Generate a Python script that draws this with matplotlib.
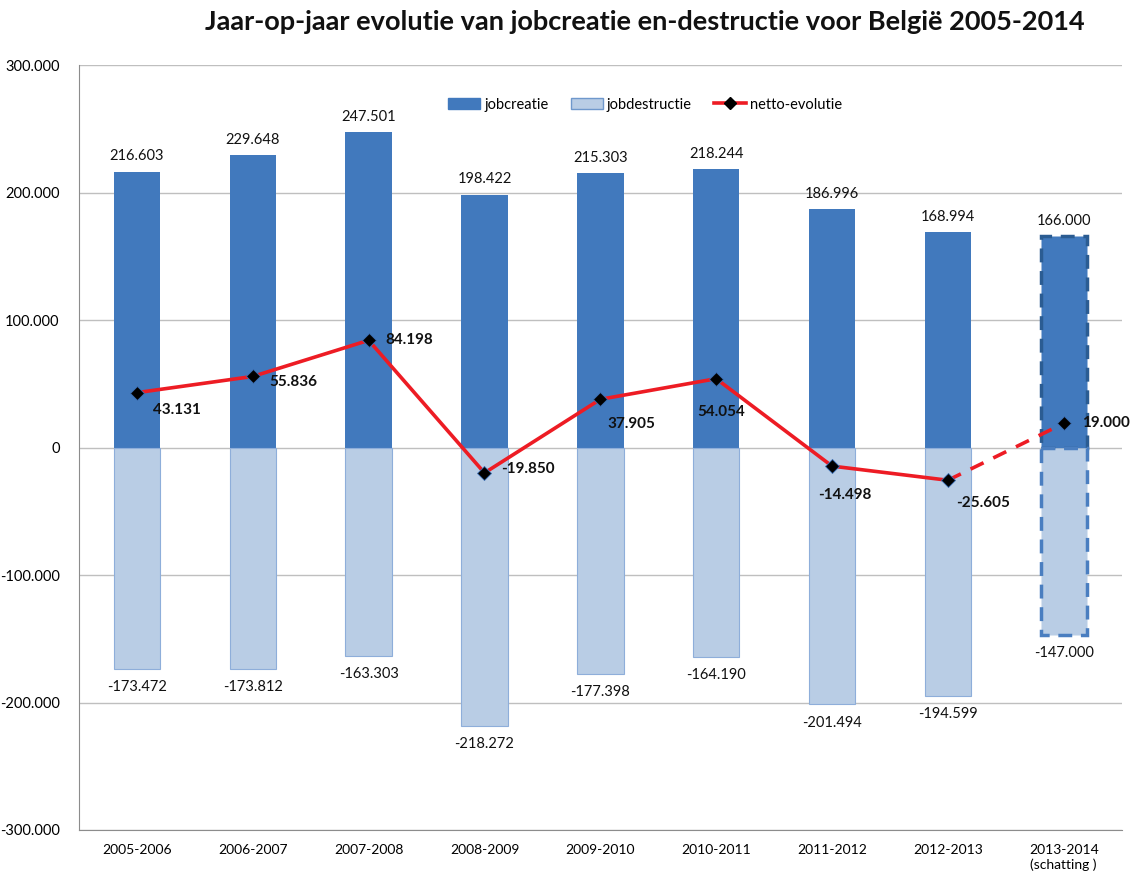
import matplotlib
matplotlib.use("Agg")
import matplotlib.pyplot as plt
import numpy as np
from matplotlib.lines import Line2D
from matplotlib.patches import Patch

plt.rcParams['font.family'] = ['Lato', 'DejaVu Sans']

periods = ["2005-2006", "2006-2007", "2007-2008", "2008-2009", "2009-2010",
           "2010-2011", "2011-2012", "2012-2013", "2013-2014\n(schatting )"]
jobcreatie = [216603, 229648, 247501, 198422, 215303, 218244, 186996, 168994, 166000]
jobdestructie = [-173472, -173812, -163303, -218272, -177398, -164190, -201494, -194599, -147000]
netto = [43131, 55836, 84198, -19850, 37905, 54054, -14498, -25605, 19000]
yticks = [-300000, -200000, -100000, 0, 100000, 200000, 300000]

def fmt(v):
    s = f"{abs(v):,}".replace(",", ".")
    return ("-" if v < 0 else "") + s

dark = '#4179BD'
light = '#B9CDE5'
red = '#ED1C24'

fig = plt.figure(figsize=(11.37, 8.82), dpi=100)
ax = fig.add_axes([0.0695, 0.059, 0.917, 0.867])

x = np.arange(len(periods))
w = 0.4
n = len(periods)
bc = ax.bar(x, jobcreatie, w, color=dark, zorder=2)
bd = ax.bar(x, jobdestructie, w, color=light, edgecolor='#8EAEDA', linewidth=0.8, zorder=2)
# estimate bar styling
bc[-1].set_edgecolor('#2B5C92'); bc[-1].set_linestyle((0, (4, 2.5))); bc[-1].set_linewidth(2.5)
bd[-1].set_edgecolor('#4A7EC0'); bd[-1].set_linestyle((0, (4, 2.5))); bd[-1].set_linewidth(2.5)

# net line
ax.plot(x[:-1], netto[:-1], color=red, lw=2.6, zorder=3)
ax.plot(x[-2:], netto[-2:], color=red, lw=2.6, ls=(0, (4, 3)), zorder=3)
ax.plot(x, netto, ls='none', marker='D', ms=7.5, mfc='black', mec='#3B6FB5', mew=0.6, zorder=4)

# value labels
for xi, v in zip(x, jobcreatie):
    ax.annotate(fmt(v), (xi, v), xytext=(0, 6), textcoords='offset points',
                ha='center', va='bottom', fontsize=10.5, color='#111111')
for xi, v in zip(x, jobdestructie):
    ax.annotate(fmt(v), (xi, v), xytext=(0, -8), textcoords='offset points',
                ha='center', va='top', fontsize=10.5, color='#111111')

# net labels offsets in pixels (dx, dy) with alignment
offs = [(16, -17, 'left'), (17, -6, 'left'), (17, 0, 'left'), (17, 4, 'left'),
        (7, -25, 'left'), (5, -33, 'center'), (-14, -29, 'left'), (8, -23, 'left'),
        (18, 0, 'left')]
for xi, v, (dx, dy, ha) in zip(x, netto, offs):
    ax.annotate(fmt(v), (xi, v), xytext=(dx * 0.72, dy * 0.72), textcoords='offset points',
                ha=ha, va='center', fontsize=11, fontweight='bold', color='#111111', zorder=5)

ax.set_xlim(-0.5, n - 0.5)
ax.set_ylim(-300000, 300000)
ax.set_yticks(yticks)
ax.set_yticklabels([fmt(t) for t in yticks], fontsize=10.5)
ax.set_xticks(x)
ax.set_xticklabels(periods, fontsize=10.5)
ax.tick_params(axis='both', length=0, pad=10)
ax.tick_params(axis='y', pad=14)
ax.yaxis.grid(True, color='#BFBFBF', lw=1, zorder=0)
ax.set_axisbelow(True)
for s in ['top', 'right']:
    ax.spines[s].set_visible(False)
for s in ['left', 'bottom']:
    ax.spines[s].set_color('#8C8C8C')
ax.spines['bottom'].set_position(('data', -300000))

handles = [Patch(facecolor=dark, edgecolor=dark),
           Patch(facecolor=light, edgecolor='#6F98CC'),
           Line2D([0], [0], color=red, lw=2.6, marker='D', ms=6, mfc='black', mec='black')]
ax.legend(handles, ['jobcreatie', 'jobdestructie', 'netto-evolutie'], loc='upper center',
          bbox_to_anchor=(0.543, 0.975), ncol=3, frameon=False, fontsize=10.5,
          handlelength=2.2, handletextpad=0.3, columnspacing=1.5)

fig.text(0.567, 0.975, "Jaar-op-jaar evolutie van jobcreatie en-destructie voor België 2005-2014",
         ha='center', va='center', fontsize=19.5, fontweight='bold', color='#111111')

fig.savefig("out.png", dpi=100)
